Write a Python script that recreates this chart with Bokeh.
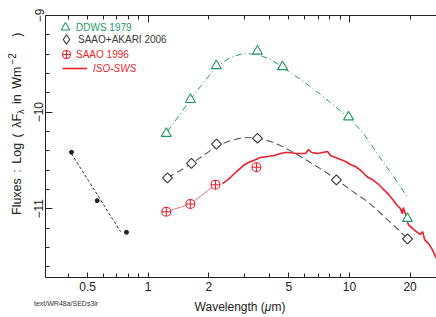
import math
from bokeh.plotting import figure
from bokeh.layouts import row, column
from bokeh.models import (FixedTicker, LogAxis, Legend, LegendItem, Div,
                          CustomJSTickFormatter)
from bokeh.embed import file_html
from bokeh.resources import INLINE

# ---------------- data ----------------
ddws_wl = [1.23, 1.62, 2.18, 3.49, 4.65, 9.89, 19.4]
ddws_flux = [-10.22, -9.87, -9.52, -9.37, -9.53, -10.05, -11.10]

ddws_fit_wl = [1.247, 1.447, 1.641, 1.819, 2.184, 2.564, 2.975, 3.491, 4.052,
               4.648, 5.709, 7.178, 9.886, 11.74, 13.94, 16.54, 19.42]
ddws_fit_flux = [-10.20, -10.013, -9.858, -9.734, -9.527, -9.434, -9.392, -9.403,
                 -9.454, -9.532, -9.661, -9.817, -10.055, -10.220, -10.448,
                 -10.665, -10.883]

akari_wl = [1.247, 1.641, 2.184, 3.491, 8.61, 19.42]
akari_flux = [-10.68, -10.53, -10.33, -10.27, -10.70, -11.31]

akari_fit_wl = [1.247, 1.447, 1.641, 1.819, 2.210, 2.564, 2.975, 3.491, 4.052,
                4.648, 5.392, 6.402, 7.428, 8.619, 10.23, 12.29, 15.44, 19.42]
akari_fit_flux = [-10.676, -10.604, -10.531, -10.469, -10.345, -10.293, -10.262,
                  -10.267, -10.303, -10.355, -10.428, -10.521, -10.604, -10.697,
                  -10.811, -10.924, -11.111, -11.307]

saao_wl = [1.23, 1.62, 2.16, 3.45]
saao_flux = [-11.03, -10.95, -10.75, -10.57]

opt_wl = [0.416, 0.558, 0.780]
opt_flux = [-10.414, -10.915, -11.242]
opt_fit_wl = [0.416, 0.729]
opt_fit_flux = [-10.43, -11.236]

iso_wl = [2.34, 2.45, 2.56, 2.75, 2.97, 3.15, 3.34, 3.61, 3.91, 4.24, 4.54, 4.81,
          5.09, 5.40, 5.71, 6.05, 6.26, 6.48, 6.94, 7.35, 7.78, 8.05, 8.53, 9.03,
          9.56, 10.1, 10.7, 11.4, 11.9, 12.4, 13.0, 13.8, 14.6, 15.5, 16.4, 17.1,
          17.9, 18.3, 18.5, 19.0, 19.6, 20.6, 21.8, 22.5, 23.1, 23.6, 24.7, 25.8,
          27.0]
iso_flux = [-10.738, -10.707, -10.676, -10.614, -10.552, -10.521, -10.500, -10.469,
            -10.459, -10.448, -10.428, -10.417, -10.417, -10.428, -10.428, -10.428,
            -10.386, -10.417, -10.428, -10.417, -10.407, -10.448, -10.469, -10.490,
            -10.510, -10.541, -10.562, -10.604, -10.645, -10.676, -10.697, -10.738,
            -10.790, -10.842, -10.904, -10.955, -10.997, -11.049, -10.986, -11.059,
            -11.163, -11.204, -11.246, -11.266, -11.235, -11.318, -11.359, -11.421,
            -11.514]

x_ticks = [0.5, 1, 2, 5, 10, 20]
x_minor = [0.4, 0.6, 0.7, 0.8, 0.9, 3, 4, 6, 7, 8, 9]
y_ticks = [-11, -10, -9]
y_minor = [-11.6, -11.4, -11.2, -10.8, -10.6, -10.4, -10.2, -9.8, -9.6, -9.4, -9.2]

GREEN = "#1f9a5c"
DARK = "#3a3a3a"
RED = "#ec1f2b"
FONT = "Liberation Sans"

X0, X1 = 0.309, 27.05
Y0, Y1 = -11.71, -9.0

LEFT_W = 28          # width of the column holding the y-axis title
FIG_W, FIG_H = 436 - LEFT_W, 298
BOT_H = 317 - FIG_H

p = figure(width=FIG_W, height=FIG_H, x_axis_type="log", x_range=(X0, X1),
           y_range=(Y0, Y1), output_backend="svg", toolbar_location=None,
           min_border_left=45 - LEFT_W, min_border_right=0, min_border_top=15,
           min_border_bottom=FIG_H - 277)
p.outline_line_color = None
p.xgrid.visible = False
p.ygrid.visible = False
p.background_fill_color = "white"

# bottom axis
xa = p.xaxis[0]
xa.ticker = FixedTicker(ticks=x_ticks, minor_ticks=x_minor)
xa.formatter = CustomJSTickFormatter(code="return tick.toString();")
xa.major_tick_in = 5
xa.major_tick_out = 0
xa.minor_tick_in = 4
xa.minor_tick_out = 0
xa.major_label_standoff = 4
xa.major_label_text_font = FONT
xa.major_label_text_font_size = "12px"
xa.major_label_text_color = "#222222"
xa.axis_line_color = "#222222"
xa.major_tick_line_color = "#222222"
xa.minor_tick_line_color = "#222222"

# top axis (ticks only, labels not drawn)
ta = LogAxis(ticker=FixedTicker(ticks=[1, 10],
                                minor_ticks=[0.4, 0.5, 0.6, 0.7, 0.8, 0.9, 2, 3, 4,
                                             5, 6, 7, 8, 9, 20]),
             major_label_text_font_size="1px", major_label_text_color=None,
             major_label_standoff=0,
             major_tick_in=7, major_tick_out=0, minor_tick_in=4, minor_tick_out=0,
             axis_line_color="#222222", major_tick_line_color="#222222",
             minor_tick_line_color="#222222")
p.add_layout(ta, "above")

# left axis
ya = p.yaxis[0]
ya.ticker = FixedTicker(ticks=y_ticks, minor_ticks=y_minor)
ya.formatter = CustomJSTickFormatter(
    code="return (tick < 0 ? '\u2212' : '') + Math.abs(tick).toString();")
ya.major_label_orientation = "vertical"
ya.major_tick_in = 7
ya.major_tick_out = 0
ya.minor_tick_in = 4
ya.minor_tick_out = 0
ya.major_label_standoff = 2
ya.major_label_text_font = FONT
ya.major_label_text_font_size = "12px"
ya.major_label_text_color = "#222222"
ya.axis_line_color = "#222222"
ya.major_tick_line_color = "#222222"
ya.minor_tick_line_color = "#222222"

# ---------------- glyphs ----------------
p.line(ddws_fit_wl, ddws_fit_flux, line_color=GREEN, line_width=1,
       line_dash="6 3 1 3")
p.line(akari_fit_wl, akari_fit_flux, line_color="#555555", line_width=1.1,
       line_dash="7 4")
p.line(opt_fit_wl, opt_fit_flux, line_color="#333333", line_width=1,
       line_dash="3 2")
p.line(saao_wl[:3], saao_flux[:3], line_color=RED, line_width=0.8, line_alpha=0.8)
r_iso = p.line(iso_wl, iso_flux, line_color=RED, line_width=1.6)

r_ddws = p.scatter(ddws_wl, ddws_flux, marker="triangle", size=10,
                   fill_color="white", line_color=GREEN, line_width=1.1)
# diamond-marker renderer used as the legend key (hidden under the squares below)
r_akari_key = p.scatter(akari_wl, akari_flux, marker="diamond", size=5,
                        fill_color="white", line_color="#333333", line_width=1.1)
p.scatter(akari_wl, akari_flux, marker="square", angle=math.pi / 4,
          size=7, fill_color="white", line_color="#333333", line_width=1.1)
r_saao = p.scatter(saao_wl, saao_flux, marker="circle_cross", size=9,
                   fill_color="white", line_color=RED, line_width=1.1)
p.scatter(opt_wl, opt_flux, marker="circle", size=4, fill_color="#222222",
          line_color="#222222")

# ---------------- legends (one per entry, coloured text) ----------------
def add_legend(label, rend, color, gw, gh, loc, standoff, style="normal"):
    lg = Legend(items=[LegendItem(label=label, renderers=[rend])],
                location=loc, padding=0, spacing=0,
                glyph_width=gw, glyph_height=gh, label_height=gh,
                label_standoff=standoff, label_text_font=FONT,
                label_text_font_size="10px", label_text_color=color,
                label_text_font_style=style, border_line_color=None,
                background_fill_alpha=0)
    p.add_layout(lg)

add_legend("DDWS 1979", r_ddws, GREEN, 22, 22, (9, 239), -1)
add_legend("SAAO+AKARI 2006", r_akari_key, DARK, 24, 24, (9, 226), -2)
add_legend("SAAO 1996", r_saao, RED, 20, 20, (11, 213), -2)
add_legend("ISO-SWS", r_iso, RED, 25, 20, (17, 199), 6, "italic")

# ---------------- y-axis title (rotated, with sub/superscript) ----------------
left_html = (
    f'<div style="position:relative;width:{LEFT_W}px;height:317px;">'
    '<div style="position:absolute;left:9.5px;top:215px;transform-origin:0 0;'
    'transform:rotate(-90deg);white-space:nowrap;font-family:\'Liberation Sans\';'
    'font-size:12.5px;line-height:14px;word-spacing:2px;color:#222222;">'
    'Fluxes : Log ( \u03bbF<span style="font-size:9px;position:relative;top:3px;">'
    '\u03bb</span> in Wm<span style="font-size:10px;position:relative;top:-5px;">'
    '&thinsp;\u22122</span>&nbsp;&nbsp; )</div></div>')
left_div = Div(text=left_html, width=LEFT_W, height=317, margin=0)

# ---------------- x-axis title and file tag ----------------
bottom_html = (
    f'<div style="position:relative;width:{FIG_W}px;height:{BOT_H}px;">'
    f'<div style="position:absolute;left:{34 - LEFT_W}px;top:2px;'
    'font-family:\'Liberation Sans\';font-size:7px;line-height:8px;color:#333333;'
    'white-space:nowrap;">text/WR48a/SEDs3ir</div>'
    f'<div style="position:absolute;left:{240 - LEFT_W}px;top:2px;'
    'transform:translateX(-50%);font-family:\'Liberation Sans\';font-size:12px;'
    'line-height:14px;color:#222222;white-space:nowrap;">'
    'Wavelength (<i>\u03bc</i>m)</div></div>')
bottom_div = Div(text=bottom_html, width=FIG_W, height=BOT_H, margin=0)

layout = row(left_div, column(p, bottom_div, spacing=0), spacing=0)

open("out.html", "w").write(file_html(layout, INLINE))
